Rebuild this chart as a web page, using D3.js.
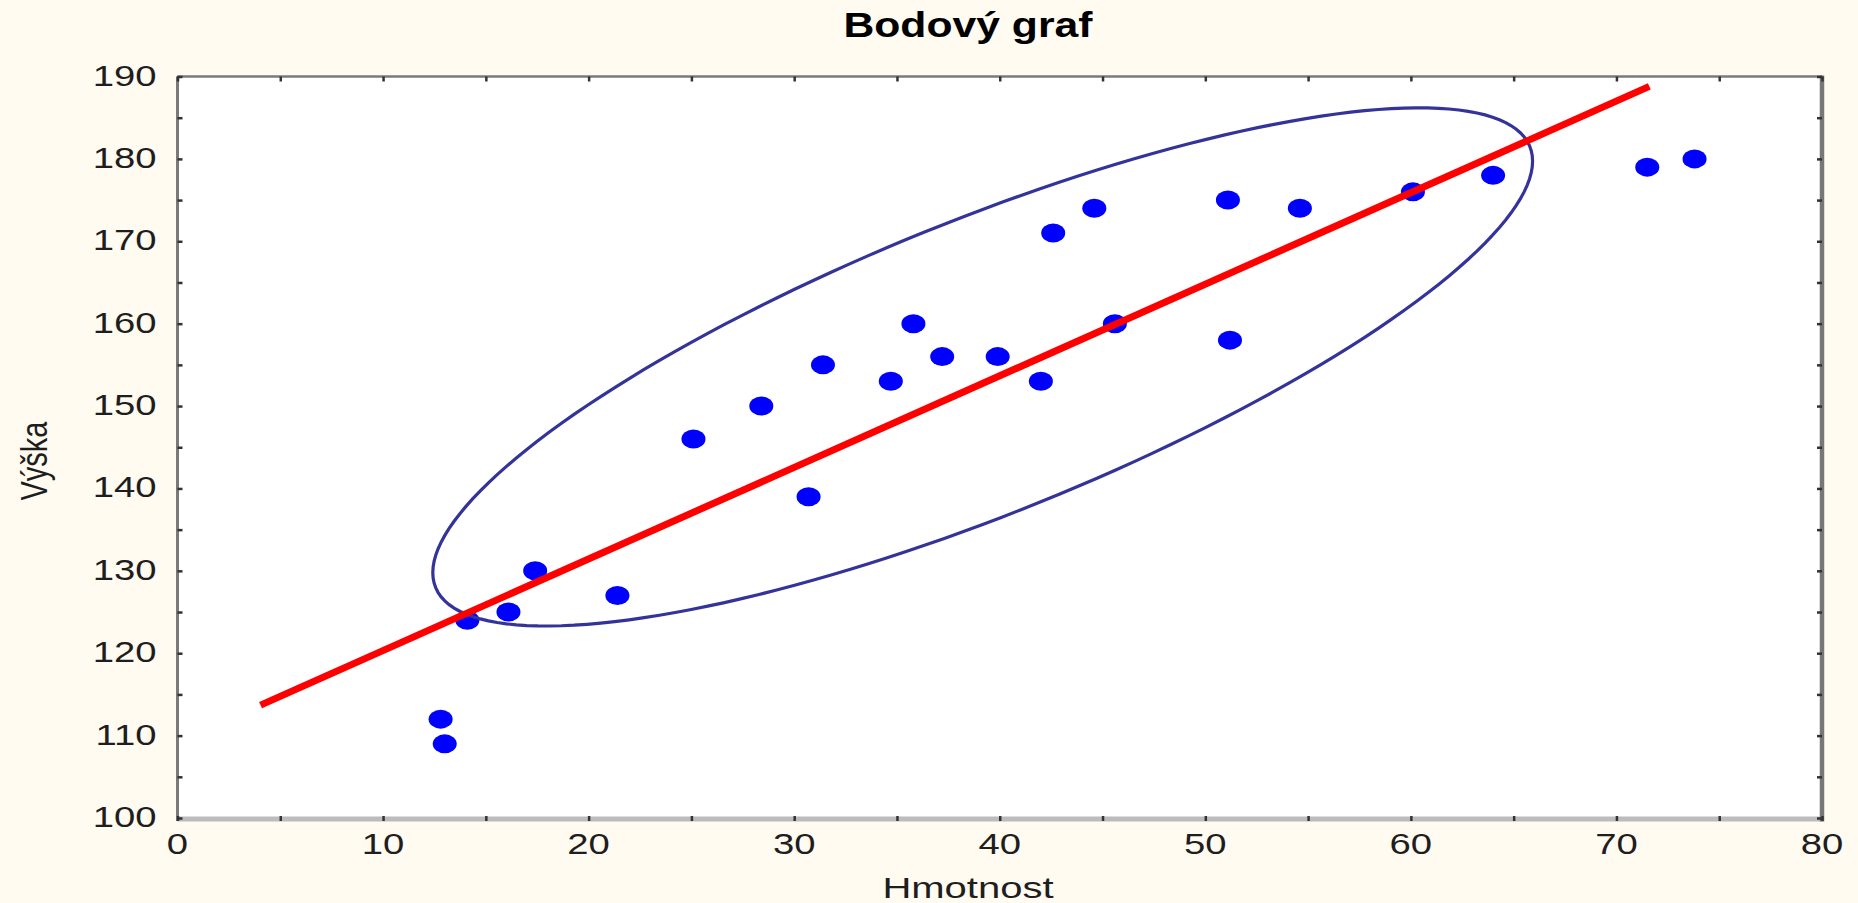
<!DOCTYPE html>
<html>
<head>
<meta charset="utf-8">
<script src="https://cdn.jsdelivr.net/npm/d3@7"></script>
<style>
  body { margin: 0; background: #fffbf0; }
  svg { display: block; }
  text { font-family: "Liberation Sans", Arial, sans-serif; fill: #1e1e1e; }
</style>
</head>
<body>
<svg id="chart"></svg>
<script>
// data
var hmotnost = [12.8, 13.0, 14.1, 16.1, 17.4, 21.4, 25.1, 28.4, 30.7, 31.4, 34.7, 35.8,
                37.2, 39.9, 42.0, 42.6, 44.6, 45.6, 51.1, 51.2, 54.6, 60.1, 64.0, 71.5, 73.8];
var vyska    = [112, 109, 124, 125, 130, 127, 146, 150, 139, 155, 153, 160,
                156, 156, 153, 171, 174, 160, 175, 158, 174, 176, 178, 179, 180];

var xTicks = [0, 10, 20, 30, 40, 50, 60, 70, 80];
var yTicks = [100, 110, 120, 130, 140, 150, 160, 170, 180, 190];
var xMinor = [5, 15, 25, 35, 45, 55, 65, 75];
var yMinor = [105, 115, 125, 135, 145, 155, 165, 175, 185];

// fitted line end points (Hmotnost, Vyska)
var fitX = [4.04, 71.6];
var fitY = [113.7, 188.8];

// ellipse: centre and spread (Sxx, Sxy, Syy) in data units
var ellCenter = [39.17, 154.75];
var ellSpread = [715.6, 668, 989];

var width = 1858, height = 903;
var margin = {top: 76.5, right: 36, bottom: 85, left: 177.5};

var svg = d3.select("#chart")
    .attr("width", width)
    .attr("height", height);

var x = d3.scaleLinear()
    .domain([0, 80])
    .range([margin.left, width - margin.right]);

var y = d3.scaleLinear()
    .domain([100, 190])
    .range([height - margin.bottom, margin.top]);

// white plot area
svg.append("rect")
    .attr("x", x(0))
    .attr("y", y(190))
    .attr("width", x(80) - x(0))
    .attr("height", y(100) - y(190))
    .attr("fill", "#fff");

var plot = svg.append("g");

// points
plot.selectAll("ellipse.pt")
    .data(hmotnost)
  .enter().append("ellipse")
    .attr("class", "pt")
    .attr("cx", function(d) { return x(d); })
    .attr("cy", function(d, i) { return y(vyska[i]); })
    .attr("rx", 12)
    .attr("ry", 9.5)
    .attr("fill", "#0000ff");

// ellipse from its centre and spread
var ux = Math.sqrt(ellSpread[0]),
    uy = ellSpread[1] / ux,
    vy = Math.sqrt(ellSpread[2] - uy * uy);
var ellPts = d3.range(0, 361, 2).map(function(a) {
  var t = a * Math.PI / 180;
  return [ellCenter[0] + ux * Math.cos(t), ellCenter[1] + uy * Math.cos(t) + vy * Math.sin(t)];
});

var line = d3.line()
    .x(function(d) { return x(d[0]); })
    .y(function(d) { return y(d[1]); });

plot.append("path")
    .datum(ellPts)
    .attr("fill", "none")
    .attr("stroke", "#333399")
    .attr("stroke-width", 3.2)
    .attr("d", line.curve(d3.curveLinearClosed));

// fitted line
plot.append("path")
    .datum(fitX.map(function(d, i) { return [d, fitY[i]]; }))
    .attr("fill", "none")
    .attr("stroke", "#ff0000")
    .attr("stroke-width", 7)
    .attr("d", d3.line().x(function(d) { return x(d[0]); }).y(function(d) { return y(d[1]); }));

// frame
svg.append("line")
    .attr("x1", x(0)).attr("x2", x(80))
    .attr("y1", y(100) + 1).attr("y2", y(100) + 1)
    .attr("stroke", "#bcbcbc").attr("stroke-width", 5);
svg.append("line")
    .attr("x1", x(0)).attr("x2", x(80))
    .attr("y1", y(190)).attr("y2", y(190))
    .attr("stroke", "#7a7a7a").attr("stroke-width", 2.5);
svg.append("line")
    .attr("x1", x(0)).attr("x2", x(0))
    .attr("y1", y(190)).attr("y2", y(100) + 3)
    .attr("stroke", "#7a7a7a").attr("stroke-width", 3);
svg.append("line")
    .attr("x1", x(80)).attr("x2", x(80))
    .attr("y1", y(190) - 1).attr("y2", y(100) + 3.5)
    .attr("stroke", "#777").attr("stroke-width", 4.5);

// ticks on all four sides, pointing inward
function ticks(axis, tx, ty, vals) {
  var g = svg.append("g")
      .attr("transform", "translate(" + tx + "," + ty + ")")
      .call(axis.tickValues(vals).tickSizeInner(-5).tickSizeOuter(0).tickFormat(""));
  g.select(".domain").remove();
  g.selectAll(".tick line").attr("stroke", "#333").attr("stroke-width", 2.5);
  return g;
}
ticks(d3.axisBottom(x), 0, y(100) + 3, xTicks.concat(xMinor));
ticks(d3.axisTop(x), 0, y(190), xTicks.concat(xMinor));
ticks(d3.axisLeft(y), x(0), 0, yTicks.concat(yMinor));
ticks(d3.axisRight(y), x(80), 0, yTicks.concat(yMinor));

// tick labels, stretched wide like the original
var sx = 1.32;
svg.append("g").selectAll("text")
    .data(xTicks)
  .enter().append("text")
    .attr("transform", function(d) { return "translate(" + x(d) + "," + (y(100) + 36) + ") scale(" + sx + ",1)"; })
    .attr("text-anchor", "middle")
    .style("font-size", "29px")
    .text(function(d) { return d; });

svg.append("g").selectAll("text")
    .data(yTicks)
  .enter().append("text")
    .attr("transform", function(d) { return "translate(" + (x(0) - 21) + "," + (y(d) + 9) + ") scale(" + sx + ",1)"; })
    .attr("text-anchor", "end")
    .style("font-size", "29px")
    .text(function(d) { return d; });

// title and axis titles
svg.append("text")
    .attr("transform", "translate(968,37) scale(1.22,1)")
    .attr("text-anchor", "middle")
    .style("font-size", "35px")
    .style("font-weight", "bold")
    .style("fill", "#000")
    .text("Bodový graf");

svg.append("text")
    .attr("transform", "translate(968,898) scale(1.38,1)")
    .attr("text-anchor", "middle")
    .style("font-size", "29px")
    .text("Hmotnost");

svg.append("text")
    .attr("transform", "translate(47,461) rotate(-90) scale(1,1.3)")
    .attr("text-anchor", "middle")
    .style("font-size", "29px")
    .text("Výška");
</script>
</body>
</html>
